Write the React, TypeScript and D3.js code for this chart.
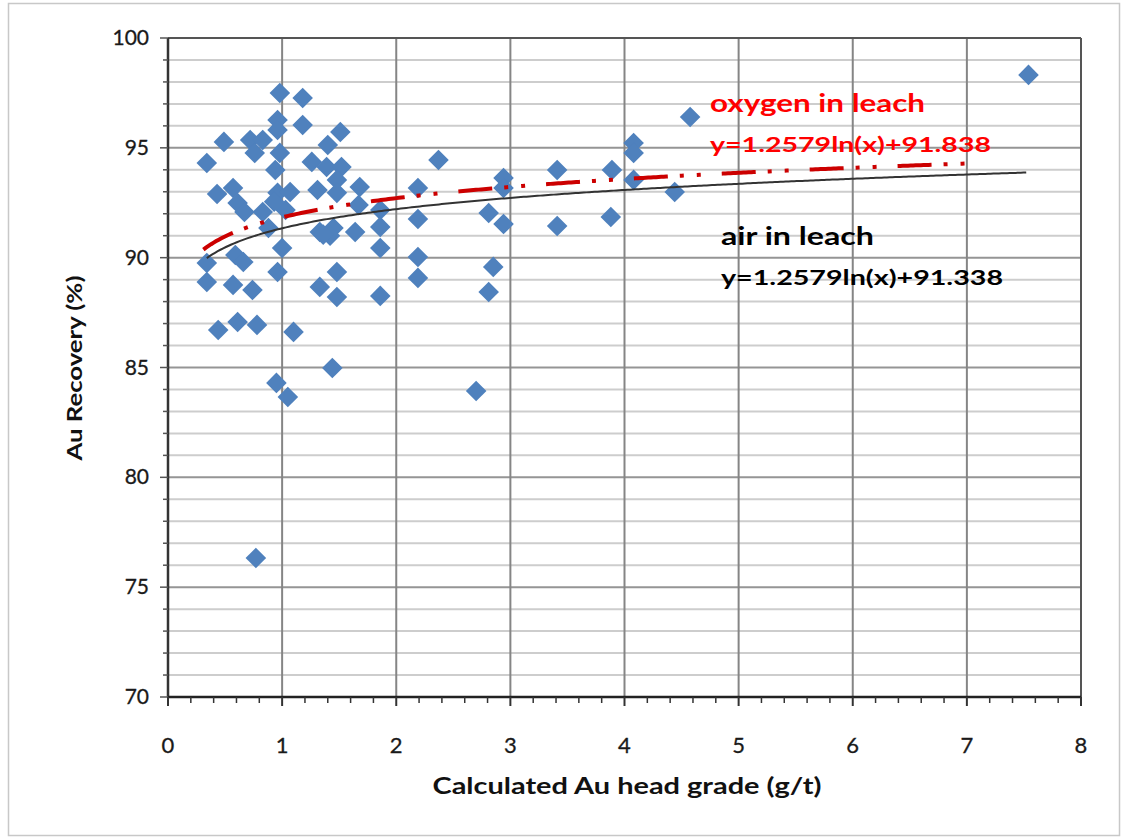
import React from "react";
import * as d3 from "d3";

const gradeX: number[] = [
  7.54, 4.575, 4.08, 4.08, 4.08, 4.44, 3.89, 3.88, 3.41, 3.41,
  2.94, 2.94, 2.81, 2.94, 2.85, 2.81, 2.70, 2.37, 2.19, 2.19,
  2.19, 2.19, 1.86, 1.86, 1.86, 1.86, 0.34, 0.43, 0.49, 0.57,
  0.61, 0.67, 0.34, 0.34, 0.59, 0.66, 0.57, 0.74, 0.44, 0.61,
  0.78, 0.77, 0.72, 0.83, 0.76, 0.83, 0.88, 0.98, 0.96, 0.96,
  0.98, 0.94, 0.96, 1.07, 1.03, 1.00, 0.96, 0.95, 1.05, 1.10,
  1.18, 1.18, 1.26, 1.31, 1.39, 1.40, 1.51, 1.52, 1.48, 1.48,
  1.68, 1.67, 1.33, 1.45, 1.64, 1.33, 1.48, 1.48, 1.44, 1.42,
  0.93, 1.36,
];
const recoveryY: number[] = [
  98.32, 96.40, 95.22, 94.77, 93.54, 92.99, 93.99, 91.85, 93.99, 91.44,
  93.63, 93.17, 92.03, 91.53, 89.58, 88.44, 83.93, 94.45, 93.17, 91.76,
  90.03, 89.08, 92.17, 91.40, 90.44, 88.26, 94.31, 92.90, 95.27, 93.17,
  92.49, 92.08, 89.76, 88.89, 90.12, 89.80, 88.76, 88.53, 86.71, 87.07,
  86.94, 76.33, 95.36, 95.36, 94.77, 92.08, 91.35, 97.50, 96.27, 95.81,
  94.77, 93.99, 92.95, 92.99, 92.17, 90.44, 89.35, 84.30, 83.66, 86.62,
  97.27, 96.04, 94.36, 93.08, 94.13, 95.13, 95.72, 94.13, 93.54, 92.95,
  93.22, 92.40, 91.17, 91.35, 91.17, 88.67, 89.35, 88.21, 84.98, 91.00,
  92.55, 91.05,
];

const xTicks: number[] = [0, 1, 2, 3, 4, 5, 6, 7, 8];
const yTicks: number[] = [70, 75, 80, 85, 90, 95, 100];

const trendSlope = 1.2579;
const oxygenIntercept = 91.838;
const airIntercept = 91.338;
const oxygenRange: [number, number] = [0.31, 7.07];
const airRange: [number, number] = [0.34, 7.52];

const W = 1125;
const H = 838;
const L = 168, R = 1081, T = 38, B = 697;

export default function App() {
  const x = d3.scaleLinear().domain([0, 8]).range([L, R]);
  const y = d3.scaleLinear().domain([70, 100]).range([B, T]);

  const minorY = d3.range(71, 100).filter((v) => v % 5 !== 0);
  const majorYGrid = [75, 80, 85, 90, 95];
  const minorX = d3.range(0, 40).map((i) => i * 0.2);
  const allYTicks = d3.range(70, 101);

  const trend = (b: number, r: [number, number]) => {
    const pts = d3.range(0, 301).map((i) => r[0] + ((r[1] - r[0]) * i) / 300);
    return d3
      .line<number>()
      .x((v) => x(v))
      .y((v) => y(trendSlope * Math.log(v) + b))(pts) as string;
  };

  const diamond = d3.symbol().type(d3.symbolDiamond2).size(270)() as string;
  const font = "Lato, 'Open Sans', sans-serif";

  return (
    <svg
      width={W}
      height={H}
      style={{ position: "absolute", left: 0, top: 0, background: "#fff" }}
    >
      <rect x={8.5} y={3.5} width={1111} height={832} fill="#fff" stroke="#c8c8c8" strokeWidth={1.5} />
      {minorY.map((v) => (
        <line key={"mg" + v} x1={L} x2={R} y1={y(v)} y2={y(v)} stroke="#cdcdcd" strokeWidth={2} />
      ))}
      {majorYGrid.map((v) => (
        <line key={"Mg" + v} x1={L} x2={R} y1={y(v)} y2={y(v)} stroke="#959595" strokeWidth={2} />
      ))}
      {xTicks.slice(1, -1).map((v) => (
        <line key={"vg" + v} x1={x(v)} x2={x(v)} y1={T} y2={B} stroke="#858585" strokeWidth={2} />
      ))}
      <line x1={L} x2={R} y1={T} y2={T} stroke="#555" strokeWidth={2} />
      <line x1={R} x2={R} y1={T} y2={B} stroke="#555" strokeWidth={2} />
      <line x1={L} x2={L} y1={T} y2={B} stroke="#333" strokeWidth={2.5} />
      <line x1={L} x2={R} y1={B} y2={B} stroke="#222" strokeWidth={2.5} />
      {allYTicks.map((v) => (
        <line
          key={"yt" + v}
          x1={v % 5 === 0 ? L - 8 : L - 5}
          x2={L}
          y1={y(v)}
          y2={y(v)}
          stroke="#555"
          strokeWidth={1.5}
        />
      ))}
      {minorX.concat([8]).map((v, i) => (
        <line
          key={"xt" + i}
          x1={x(v)}
          x2={x(v)}
          y1={B}
          y2={B + (i % 5 === 0 ? 9 : 6)}
          stroke="#333"
          strokeWidth={i % 5 === 0 ? 2 : 1.5}
        />
      ))}
      {yTicks.map((v) => (
        <text key={"yl" + v} x={149} y={y(v) + 7} textAnchor="end" fontSize={21} fontFamily={font} fill="#1a1a1a" stroke="#1a1a1a" strokeWidth={0.3}>
          {v}
        </text>
      ))}
      {xTicks.map((v) => (
        <text key={"xl" + v} x={x(v)} y={753} textAnchor="middle" fontSize={22} fontFamily={font} fill="#1a1a1a" stroke="#1a1a1a" strokeWidth={0.3}>
          {v}
        </text>
      ))}
      <text
        x={627}
        y={794}
        textAnchor="middle"
        fontSize={23}
        fontWeight="bold"
        fontFamily={font}
        fill="#111"
        textLength={389}
        lengthAdjust="spacingAndGlyphs"
      >
        Calculated Au head grade (g/t)
      </text>
      <text
        transform={`translate(82,${368}) rotate(-90)`}
        textAnchor="middle"
        fontSize={21}
        fontWeight="bold"
        fontFamily={font}
        fill="#111"
        textLength={185}
        lengthAdjust="spacingAndGlyphs"
      >
        Au Recovery (%)
      </text>
      {gradeX.map((gx, i) => (
        <path
          key={"p" + i}
          d={diamond}
          transform={`translate(${x(gx)},${y(recoveryY[i])})`}
          fill="#4f81bd"
        />
      ))}
      <path d={trend(airIntercept, airRange)} fill="none" stroke="#333" strokeWidth={2} />
      <path
        d={trend(oxygenIntercept, oxygenRange)}
        fill="none"
        stroke="#cc0000"
        strokeWidth={4}
        strokeDasharray="34 12 4 13 4 21"
      />
      <text x={710} y={112} fontSize={25} fontWeight="bold" fontFamily={font} fill="#ff0000" textLength={215} lengthAdjust="spacingAndGlyphs">
        oxygen in leach
      </text>
      <text x={710} y={152} fontSize={21} fontWeight="bold" fontFamily={font} fill="#ff0000" textLength={281} lengthAdjust="spacingAndGlyphs">
        y=1.2579ln(x)+91.838
      </text>
      <text x={721} y={245} fontSize={25} fontWeight="bold" fontFamily={font} fill="#000" textLength={153} lengthAdjust="spacingAndGlyphs">
        air in leach
      </text>
      <text x={721} y={285} fontSize={21} fontWeight="bold" fontFamily={font} fill="#000" textLength={282} lengthAdjust="spacingAndGlyphs">
        y=1.2579ln(x)+91.338
      </text>
    </svg>
  );
}
